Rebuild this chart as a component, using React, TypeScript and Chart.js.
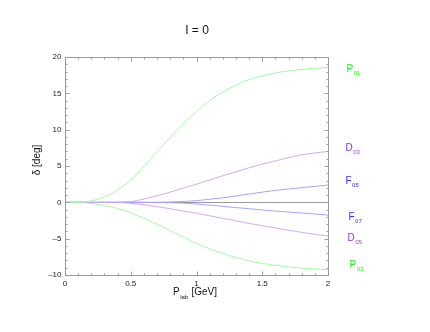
import React, { useEffect, useRef } from 'react';
import { Chart, registerables } from 'chart.js';

Chart.register(...registerables);

const xValues = [0, 0.1, 0.2, 0.3, 0.4, 0.5, 0.6, 0.7, 0.8, 0.9, 1.0, 1.1, 1.2, 1.3, 1.4, 1.5, 1.6, 1.7, 1.8, 1.9, 2.0];
const P01 = [0, 0, 0.2, 0.77, 1.7, 3.07, 4.9, 7.0, 8.9, 10.8, 12.5, 14.0, 15.2, 16.1, 16.9, 17.4, 17.8, 18.1, 18.3, 18.45, 18.55];
const P03 = [0, 0, -0.14, -0.46, -0.83, -1.43, -2.2, -3.0, -3.9, -4.8, -5.65, -6.4, -7.05, -7.6, -8.05, -8.4, -8.67, -8.9, -9.04, -9.17, -9.27];
const D03 = [0, 0, 0, 0, 0.02, 0.1, 0.45, 0.9, 1.4, 1.97, 2.5, 3.07, 3.66, 4.2, 4.76, 5.27, 5.7, 6.15, 6.55, 6.8, 7.0];
const D05 = [0, 0, 0, 0, -0.02, -0.14, -0.33, -0.6, -0.88, -1.2, -1.5, -1.85, -2.2, -2.55, -2.9, -3.22, -3.54, -3.84, -4.13, -4.4, -4.63];
const F05 = [0, 0, 0, 0, 0, 0, 0, 0.01, 0.05, 0.12, 0.23, 0.42, 0.63, 0.88, 1.14, 1.4, 1.65, 1.84, 2.02, 2.2, 2.38];
const F07 = [0, 0, 0, 0, 0, 0, 0, -0.01, -0.05, -0.12, -0.23, -0.39, -0.55, -0.72, -0.88, -1.04, -1.2, -1.34, -1.47, -1.61, -1.75];

const seriesValues = [P01, D03, F05, F07, D05, P03];
const seriesLetters = ['P', 'D', 'F', 'F', 'D', 'P'];
const seriesSubs = ['01', '03', '05', '07', '05', '03'];

const xTicks = [0, 0.5, 1, 1.5, 2];
const xTickLabels = ['0', '0.5', '1', '1.5', '2'];
const yTicks = [-10, -5, 0, 5, 10, 15, 20];
const yTickLabels = ['\u201310', '\u20135', '0', '5', '10', '15', '20'];

const titleText = 'I = 0';
const yTitle = '\u03b4 [deg]';
const xTitleMain = 'P';
const xTitleSub = 'lab';
const xTitleRest = ' [GeV]';

const lineColors = ['#9cff9c', '#d8a6f6', '#a4a4ff', '#a4a4ff', '#d8a6f6', '#9cff9c'];
const labelColors = ['#22ee22', '#9933cc', '#3333ff', '#3333ff', '#9933cc', '#22ee22'];
const labelDx = [18, 17, 17, 20, 19, 21];
const labelDy = [2, -3, -4, 2.5, 2, -4];

const FONT = '"Liberation Sans", Arial, Helvetica, sans-serif';

const framePlugin = {
  id: 'framePlugin',
  beforeDatasetsDraw(chart: any) {
    const { ctx, chartArea, scales } = chart;
    const y0 = Math.round(scales.y.getPixelForValue(0)) + 0.5;
    ctx.save();
    ctx.strokeStyle = '#9a9a9a';
    ctx.lineWidth = 1;
    ctx.beginPath();
    ctx.moveTo(chartArea.left, y0);
    ctx.lineTo(chartArea.right, y0);
    ctx.stroke();
    ctx.restore();
  },
  afterDatasetsDraw(chart: any) {
    const { ctx, chartArea, scales } = chart;
    const xs = scales.x;
    const ys = scales.y;
    const L = Math.round(chartArea.left) + 0.5;
    const R = Math.round(chartArea.right) + 0.5;
    const T = Math.round(chartArea.top) + 0.5;
    const B = Math.round(chartArea.bottom) + 0.5;
    ctx.save();
    ctx.strokeStyle = '#9a9a9a';
    ctx.lineWidth = 1;
    ctx.strokeRect(L, T, R - L, B - T);
    ctx.beginPath();
    for (let i = 0; i <= 20; i++) {
      const v = i / 10;
      const len = i % 5 === 0 ? 4 : 2;
      const px = Math.round(xs.getPixelForValue(v)) + 0.5;
      ctx.moveTo(px, B);
      ctx.lineTo(px, B - len);
      ctx.moveTo(px, T);
      ctx.lineTo(px, T + len);
    }
    for (let v = -10; v <= 20; v++) {
      const len = v % 5 === 0 ? 4 : 2;
      const py = Math.round(ys.getPixelForValue(v)) + 0.5;
      ctx.moveTo(L, py);
      ctx.lineTo(L + len, py);
      ctx.moveTo(R, py);
      ctx.lineTo(R - len, py);
    }
    ctx.stroke();

    // tick labels
    ctx.fillStyle = '#222';
    ctx.font = `8px ${FONT}`;
    ctx.textAlign = 'center';
    ctx.textBaseline = 'middle';
    xTicks.forEach((v, i) => {
      ctx.fillText(xTickLabels[i], xs.getPixelForValue(v), B + 8);
    });
    ctx.textAlign = 'right';
    yTicks.forEach((v, i) => {
      ctx.fillText(yTickLabels[i], L - 4, ys.getPixelForValue(v));
    });

    // title
    ctx.fillStyle = '#111';
    ctx.font = `12px ${FONT}`;
    ctx.textAlign = 'center';
    ctx.fillText(titleText, (L + R) / 2, 31);

    // x title
    ctx.font = `10px ${FONT}`;
    const wMain = ctx.measureText(xTitleMain).width;
    const wRest = ctx.measureText(xTitleRest).width;
    ctx.font = `6px ${FONT}`;
    const wSub = ctx.measureText(xTitleSub).width;
    const total = wMain + wSub + 1 + wRest;
    let sx = (L + R) / 2 - total / 2 - 2;
    const xty = B + 17;
    ctx.textAlign = 'left';
    ctx.font = `10px ${FONT}`;
    ctx.fillText(xTitleMain, sx, xty);
    sx += wMain + 0.5;
    ctx.font = `6px ${FONT}`;
    ctx.fillText(xTitleSub, sx, xty + 4.5);
    sx += wSub + 0.5;
    ctx.font = `10px ${FONT}`;
    ctx.fillText(xTitleRest, sx, xty);

    // y title
    ctx.save();
    ctx.translate(37, 160);
    ctx.rotate(-Math.PI / 2);
    ctx.textAlign = 'center';
    ctx.font = `10px ${FONT}`;
    ctx.fillText(yTitle, 0, 0);
    ctx.restore();

    // series labels
    seriesValues.forEach((vals, i) => {
      const last = vals[vals.length - 1];
      const px = R + labelDx[i];
      const py = ys.getPixelForValue(last) + labelDy[i];
      ctx.fillStyle = labelColors[i];
      ctx.textAlign = 'left';
      ctx.font = `10px ${FONT}`;
      ctx.fillText(seriesLetters[i], px, py);
      const w = ctx.measureText(seriesLetters[i]).width;
      ctx.font = `6px ${FONT}`;
      ctx.fillText(seriesSubs[i], px + w + 0.5, py + 4);
    });
    ctx.restore();
  },
};

export default function App() {
  const ref = useRef<HTMLCanvasElement | null>(null);
  useEffect(() => {
    if (!ref.current) return;
    const chart = new Chart(ref.current, {
      type: 'line',
      data: {
        datasets: seriesValues.map((vals, i) => ({
          label: seriesLetters[i] + seriesSubs[i],
          data: xValues.map((x, j) => ({ x, y: vals[j] })),
          borderColor: lineColors[i],
          backgroundColor: lineColors[i],
          borderWidth: 1,
          pointRadius: 0,
          fill: false,
          cubicInterpolationMode: 'monotone' as const,
        })),
      },
      options: {
        responsive: false,
        animation: false,
        layout: { padding: { left: 65, top: 57, right: 102, bottom: 57 } },
        plugins: { legend: { display: false }, tooltip: { enabled: false }, title: { display: false } },
        scales: {
          x: { type: 'linear', min: 0, max: 2, display: false },
          y: { type: 'linear', min: -10, max: 20, display: false },
        },
      },
      plugins: [framePlugin],
    });
    return () => chart.destroy();
  }, []);
  return (
    <div style={{ position: 'fixed', left: 0, top: 0, width: 430, height: 332, background: '#fff' }}>
      <canvas ref={ref} width={430} height={332} style={{ width: 430, height: 332 }} />
    </div>
  );
}
